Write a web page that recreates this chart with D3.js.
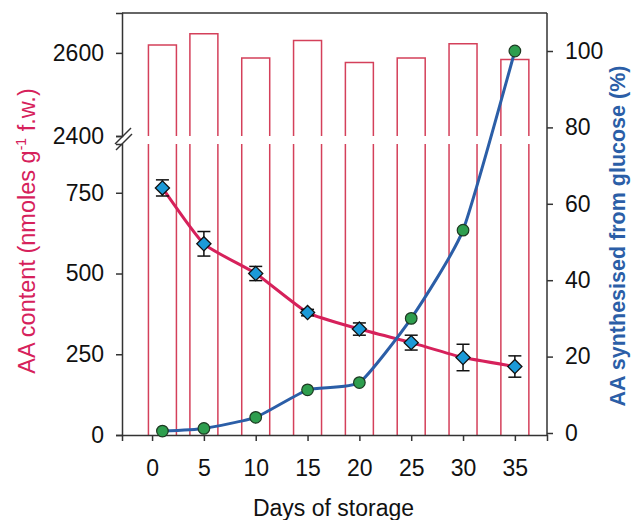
<!DOCTYPE html>
<html>
<head>
<meta charset="utf-8">
<script src="https://cdn.jsdelivr.net/npm/d3@7"></script>
<style>
  body { margin: 0; background: #fff; }
  text { font-family: "Liberation Sans", Arial, sans-serif; }
</style>
</head>
<body>
<div id="chart"></div>
<script>
// data
const days = [1, 5, 10, 15, 20, 25, 30, 35]
const totalAA = [2619, 2646, 2588, 2630, 2577, 2588, 2622, 2584] // bars, upper scale
const aaContent = [765, 592, 500, 379, 328, 286, 240, 212] // diamonds
const aaError = [25, 38, 22, 10, 19, 23, 41, 33]
const fromGlucose = [0.5, 1.2, 4.1, 11.3, 13.2, 30.0, 53.1, 100] // circles, right axis (%)
const xTicks = [0, 5, 10, 15, 20, 25, 30, 35]
const lowTicks = [0, 250, 500, 750]
const highTicks = [2400, 2600]
const rightTicks = [0, 20, 40, 60, 80, 100]

const W = 633, H = 520
const plot = { left: 122, right: 547, top: 13, bottom: 435 }
const breakTop = 136, breakBottom = 144

const red = "#d6215b", barRed = "#d4405a", blue = "#2b5ea7"

const svg = d3.select("#chart").append("svg")
  .attr("width", W).attr("height", H)

// scales
const x = d3.scaleLinear().domain([-2.9, 38.1]).range([plot.left, plot.right])
const yLow = d3.scaleLinear().domain([0, 901]).range([plot.bottom, breakBottom])
const yHigh = d3.scaleLinear().domain([2400, 2696]).range([breakTop, plot.top])
const yRight = d3.scaleLinear().domain([0, 100]).range([433, 51])

const barW = x(2.7) - x(0)

// open bars, split at the axis break
const bars = svg.append("g")
  .attr("fill", "none").attr("stroke", barRed).attr("stroke-width", 1.5)
days.forEach((d, i) => {
  const x0 = x(d) - barW / 2, x1 = x(d) + barW / 2
  bars.append("path")
    .attr("d", `M${x0},${breakTop}V${yHigh(totalAA[i])}H${x1}V${breakTop}`)
  bars.append("path")
    .attr("d", `M${x0},${breakBottom}V${plot.bottom}M${x1},${breakBottom}V${plot.bottom}`)
})

// frame lines
const frame = svg.append("g").attr("stroke", "#333").attr("stroke-width", 1.5)
frame.append("line").attr("x1", plot.left).attr("x2", plot.right).attr("y1", plot.top).attr("y2", plot.top)
frame.append("line").attr("x1", plot.right).attr("x2", plot.right).attr("y1", plot.top).attr("y2", plot.bottom)

const styleAxis = (g) => {
  g.selectAll("path.domain").attr("stroke", "#333").attr("stroke-width", 1.5)
  g.selectAll(".tick line").attr("stroke", "#333").attr("stroke-width", 1.5)
  g.selectAll("text").attr("font-size", 23).attr("fill", "#111")
    .attr("font-family", "Liberation Sans, Arial, sans-serif")
}
const fmt = d3.format("d")

// bottom axis
svg.append("g")
  .attr("transform", `translate(0,${plot.bottom})`)
  .call(d3.axisBottom(x).tickValues(xTicks).tickFormat(fmt).tickSizeOuter(0).tickSize(6).tickPadding(19))
  .call(styleAxis)

// left axes (two pieces)
svg.append("g")
  .attr("transform", `translate(${plot.left},0)`)
  .call(d3.axisLeft(yLow).tickValues(lowTicks).tickFormat(fmt).tickSizeOuter(0).tickSize(6).tickPadding(12))
  .call(styleAxis)
svg.append("g")
  .attr("transform", `translate(${plot.left},0)`)
  .call(d3.axisLeft(yHigh).tickValues(highTicks).tickFormat(fmt).tickSizeOuter(0).tickSize(6).tickPadding(12))
  .call(styleAxis)

// break marks
const brk = svg.append("g").attr("stroke", "#333").attr("stroke-width", 1.5)
brk.append("line").attr("x1", plot.left - 7).attr("y1", 144).attr("x2", plot.left + 9).attr("y2", 128)
brk.append("line").attr("x1", plot.left - 6).attr("y1", 150).attr("x2", plot.left + 10).attr("y2", 134)

// right axis
svg.append("g")
  .attr("transform", `translate(${plot.right},0)`)
  .call(d3.axisRight(yRight).tickValues(rightTicks).tickFormat(fmt).tickSizeOuter(0).tickSize(6).tickPadding(12))
  .call(styleAxis)
  .call((g) => g.select("path.domain").remove())

// lines
const curve = d3.curveCardinal.tension(0.5)
const redLine = d3.line().x((d, i) => x(days[i])).y((d) => yLow(d)).curve(curve)
const blueLine = d3.line().x((d, i) => x(days[i])).y((d) => yRight(d)).curve(curve)

svg.append("path").datum(aaContent)
  .attr("d", redLine).attr("fill", "none").attr("stroke", red).attr("stroke-width", 3)
svg.append("path").datum(fromGlucose)
  .attr("d", blueLine).attr("fill", "none").attr("stroke", blue).attr("stroke-width", 3)

// error bars
const err = svg.append("g").attr("stroke", "#111").attr("stroke-width", 1.5)
days.forEach((d, i) => {
  const cx = x(d), y0 = yLow(aaContent[i] - aaError[i]), y1 = yLow(aaContent[i] + aaError[i])
  err.append("line").attr("x1", cx).attr("x2", cx).attr("y1", y0).attr("y2", y1)
  err.append("line").attr("x1", cx - 6.5).attr("x2", cx + 6.5).attr("y1", y0).attr("y2", y0)
  err.append("line").attr("x1", cx - 6.5).attr("x2", cx + 6.5).attr("y1", y1).attr("y2", y1)
})

// circles
svg.append("g").selectAll("circle").data(fromGlucose).join("circle")
  .attr("cx", (d, i) => x(days[i])).attr("cy", (d) => yRight(d)).attr("r", 5.8)
  .attr("fill", "#2e9e4e").attr("stroke", "#1d3a22").attr("stroke-width", 1.2)

// diamonds
const diamond = d3.symbol().type(d3.symbolSquare).size(100)
svg.append("g").selectAll("path").data(aaContent).join("path")
  .attr("d", diamond)
  .attr("transform", (d, i) => `translate(${x(days[i])},${yLow(d)}) rotate(45)`)
  .attr("fill", "#1c9ad8").attr("stroke", "#111").attr("stroke-width", 1.3)

// axis titles
svg.append("text")
  .attr("x", 333.5).attr("y", 516).attr("text-anchor", "middle")
  .attr("font-size", 23).attr("fill", "#111")
  .text("Days of storage")

const lt = svg.append("text")
  .attr("transform", "translate(35,231) rotate(-90)")
  .attr("text-anchor", "middle").attr("font-size", 23.5).attr("fill", red)
lt.append("tspan").text("AA content (nmoles g")
lt.append("tspan").attr("font-size", 14).attr("dy", -9).text("-1")
lt.append("tspan").attr("dy", 9).text(" f.w.)")

svg.append("text")
  .attr("transform", "translate(625,236) rotate(-90)")
  .attr("text-anchor", "middle").attr("font-size", 21.5).attr("font-weight", "bold").attr("fill", blue)
  .text("AA synthesised from glucose (%)")
</script>
</body>
</html>
